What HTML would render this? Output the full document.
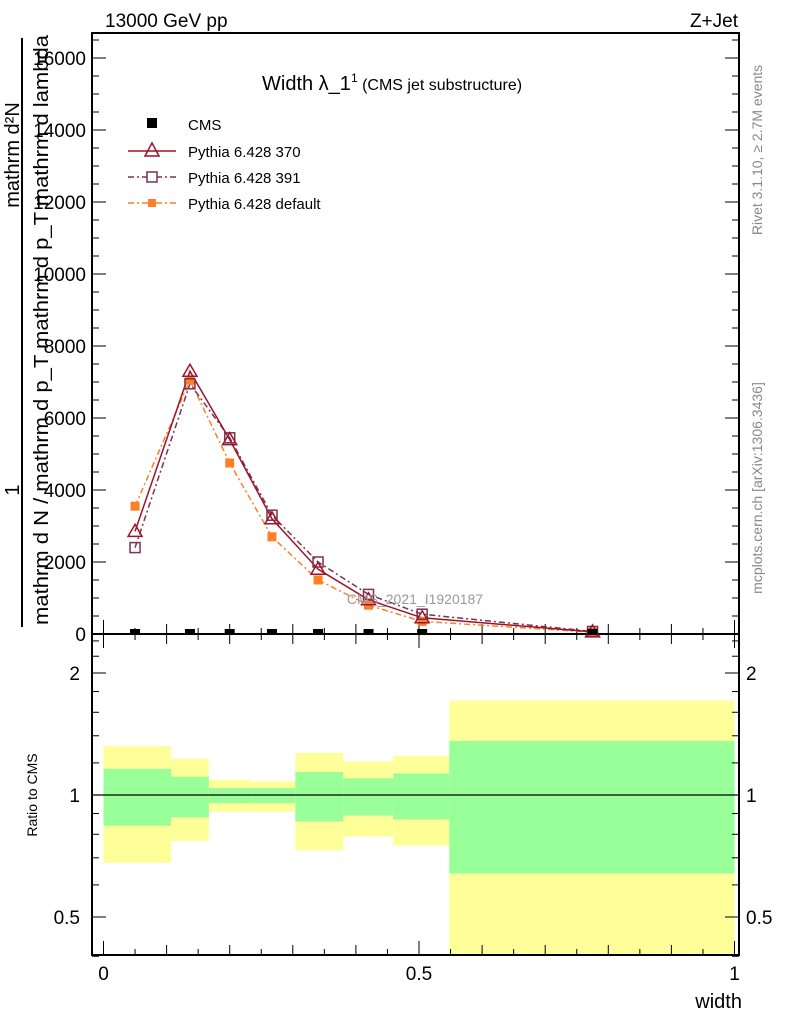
<!DOCTYPE html>
<html><head><meta charset="utf-8"><style>
body{margin:0;background:#fff}
svg{display:block;font-family:"Liberation Sans",sans-serif}
</style></head><body>
<svg id="c" width="786" height="1024" xmlns="http://www.w3.org/2000/svg">
<g id="bands"></g>
<g id="axes"></g>
<g id="series"></g>
<text x="105" y="27" font-size="19">13000 GeV pp</text>
<text x="738" y="27" font-size="19" text-anchor="end">Z+Jet</text>
<text x="262" y="90" font-size="20">Width λ_1<tspan font-size="12" dy="-8">1</tspan><tspan font-size="16" dy="8"> (CMS jet substructure)</tspan></text>
<text x="415" y="604" font-size="14" fill="#999" text-anchor="middle">CMS_2021_I1920187</text>
<text transform="translate(762,150) rotate(-90)" font-size="14" fill="#888" text-anchor="middle">Rivet 3.1.10, ≥ 2.7M events</text>
<text transform="translate(762,488) rotate(-90)" font-size="14" fill="#888" text-anchor="middle">mcplots.cern.ch [arXiv:1306.3436]</text>
<text transform="translate(19,155) rotate(-90)" font-size="20" text-anchor="middle">mathrm d²N</text>
<line x1="22" y1="38" x2="22" y2="627" stroke="#000" stroke-width="2"/>
<text transform="translate(19,490) rotate(-90)" font-size="20" text-anchor="middle">1</text>
<text transform="translate(48,330) rotate(-90)" font-size="20" text-anchor="middle" textLength="590" lengthAdjust="spacingAndGlyphs">mathrm d N / mathrm d p_T mathrm d p_T mathrm d lambda</text>
<text transform="translate(37,795) rotate(-90)" font-size="14" text-anchor="middle">Ratio to CMS</text>
<text x="742" y="1008" font-size="20" text-anchor="end">width</text>
<g>
<rect x="147" y="118" width="10" height="10" fill="#000"/>
<text x="188" y="130" font-size="15">CMS</text>
<line x1="128" y1="151" x2="176" y2="151" stroke="#a0112a" stroke-width="1.5"/>
<polygon points="152,143 145,156 159,156" fill="none" stroke="#a0112a" stroke-width="1.5"/>
<text x="188" y="157" font-size="15">Pythia 6.428 370</text>
<line x1="128" y1="177" x2="176" y2="177" stroke="#7a3350" stroke-width="1.5" stroke-dasharray="6,3,2,3"/>
<rect x="147" y="172" width="10" height="10" fill="#fff" stroke="#7a3350" stroke-width="1.5"/>
<text x="188" y="183" font-size="15">Pythia 6.428 391</text>
<line x1="128" y1="203" x2="176" y2="203" stroke="#ff7f27" stroke-width="1.5" stroke-dasharray="6,3,2,3"/>
<rect x="148" y="199" width="8" height="8" fill="#ff7f27"/>
<text x="188" y="209" font-size="15">Pythia 6.428 default</text>
</g>
</svg>
<script>
const centers=[0.05,0.137,0.2,0.267,0.34,0.42,0.505,0.775];
const edges=[0,0.107,0.167,0.234,0.304,0.380,0.459,0.548,1.0];
const cms=[0,0,0,0,0,0,0,0];
const p370=[2850,7300,5400,3200,1800,950,450,60];
const p391=[2400,6950,5450,3300,2000,1100,550,70];
const pdef=[3550,7050,4750,2700,1500,800,350,50];
const yelLo=[0.68,0.77,0.91,0.91,0.73,0.79,0.75,0.4];
const yelHi=[1.32,1.23,1.09,1.08,1.27,1.21,1.25,1.71];
const grnLo=[0.84,0.88,0.955,0.955,0.86,0.89,0.87,0.64];
const grnHi=[1.16,1.11,1.04,1.04,1.14,1.10,1.13,1.36];
const yTicks=[0,2000,4000,6000,8000,10000,12000,14000,16000];
const rTicks=[0.5,1,2];
const xTicks=[0,0.5,1];
const NS="http://www.w3.org/2000/svg";
const L=92,R=739,T=33,MB=634,RB=955;
const X=v=>103.5+631*v;
const Y=v=>634-0.036*v;
const RY=r=>795-122*Math.log2(r);
function mk(p,tag,a){const e=document.createElementNS(NS,tag);for(const k in a)e.setAttribute(k,a[k]);p.appendChild(e);return e;}
const bands=document.getElementById('bands'),axes=document.getElementById('axes'),ser=document.getElementById('series');
const cl=v=>Math.min(RB,Math.max(T,v));
for(let i=0;i<edges.length-1;i++){
 const x0=X(edges[i]),x1=X(edges[i+1]);
 const y=mk(bands,'rect',{x:x0,y:cl(RY(yelHi[i])),width:x1-x0,height:cl(RY(yelLo[i]))-cl(RY(yelHi[i])),fill:'#ffff99'});
 
 
 const g=mk(bands,'rect',{x:x0,y:RY(grnHi[i]),width:x1-x0,height:RY(grnLo[i])-RY(grnHi[i]),fill:'#99ff99'});
 
 
}
mk(axes,'line',{x1:L,y1:795,x2:R,y2:795,stroke:'#000','stroke-width':1.2});
mk(axes,'rect',{x:L,y:T,width:R-L,height:MB-T,fill:'none',stroke:'#000','stroke-width':2});
mk(axes,'rect',{x:L,y:MB,width:R-L,height:RB-MB,fill:'none',stroke:'#000','stroke-width':2});
for(let v=0;v<=16500;v+=500){const y=Y(v);const len=v%2000==0?14:7;
 mk(axes,'line',{x1:L,y1:y,x2:L+len,y2:y,stroke:'#000'});mk(axes,'line',{x1:R,y1:y,x2:R-len,y2:y,stroke:'#000'});}
yTicks.forEach(v=>{const t=mk(axes,'text',{x:86,y:Y(v)+7,'font-size':19,'text-anchor':'end'});t.textContent=v;
 
 });
[0.4,0.5,0.6,0.7,0.8,0.9,1,1.2,1.4,1.6,1.8,2,2.2,2.4].forEach(r=>{const y=RY(r);const len=rTicks.includes(r)?14:7;
 mk(axes,'line',{x1:L,y1:y,x2:L+len,y2:y,stroke:'#000'});mk(axes,'line',{x1:R,y1:y,x2:R-len,y2:y,stroke:'#000'});});
rTicks.forEach(r=>{const a=mk(axes,'text',{x:80,y:RY(r)+7,'font-size':19,'text-anchor':'end'});a.textContent=r;
 
 
 const b=mk(axes,'text',{x:746,y:RY(r)+7,'font-size':19});b.textContent=r;
 
 });
for(let k=0;k<=20;k++){const v=k*0.05,x=X(v),len=k%10==0?14:(k%2==0?10:6);
 [MB,RB].forEach(b=>mk(axes,'line',{x1:x,y1:b,x2:x,y2:b-len,stroke:'#000'}));
 mk(axes,'line',{x1:x,y1:MB,x2:x,y2:MB+len,stroke:'#000'});}
xTicks.forEach(v=>{const t=mk(axes,'text',{x:X(v),y:980,'font-size':19,'text-anchor':'middle'});t.textContent=v;
 
 });
function line(arr,col,dash,name){const pts=arr.map((v,i)=>X(centers[i])+','+Y(v)).join(' ');
 const p=mk(ser,'polyline',{points:pts,fill:'none',stroke:col,'stroke-width':1.5});if(dash)p.setAttribute('stroke-dasharray',dash);
 
 }
line(pdef,'#ff7f27','6,3,2,3','pythia-default-line');
line(p391,'#7a3350','6,3,2,3','pythia-391-line');
line(p370,'#a0112a','','pythia-370-line');
pdef.forEach((v,i)=>{const m=mk(ser,'rect',{x:X(centers[i])-4.5,y:Y(v)-4.5,width:9,height:9,fill:'#ff7f27'});
 
 });
p391.forEach((v,i)=>{const m=mk(ser,'rect',{x:X(centers[i])-5,y:Y(v)-5,width:10,height:10,fill:'none',stroke:'#7a3350','stroke-width':1.5});
 
 });
p370.forEach((v,i)=>{const x=X(centers[i]),y=Y(v);const m=mk(ser,'polygon',{points:`${x},${y-7} ${x-7},${y+5} ${x+7},${y+5}`,fill:'none',stroke:'#a0112a','stroke-width':1.5});
 
 });
cms.forEach((v,i)=>{const m=mk(ser,'rect',{x:X(centers[i])-5,y:Y(v)-5,width:10,height:6,fill:'#000'});
 
 });
</script>
</body></html>
